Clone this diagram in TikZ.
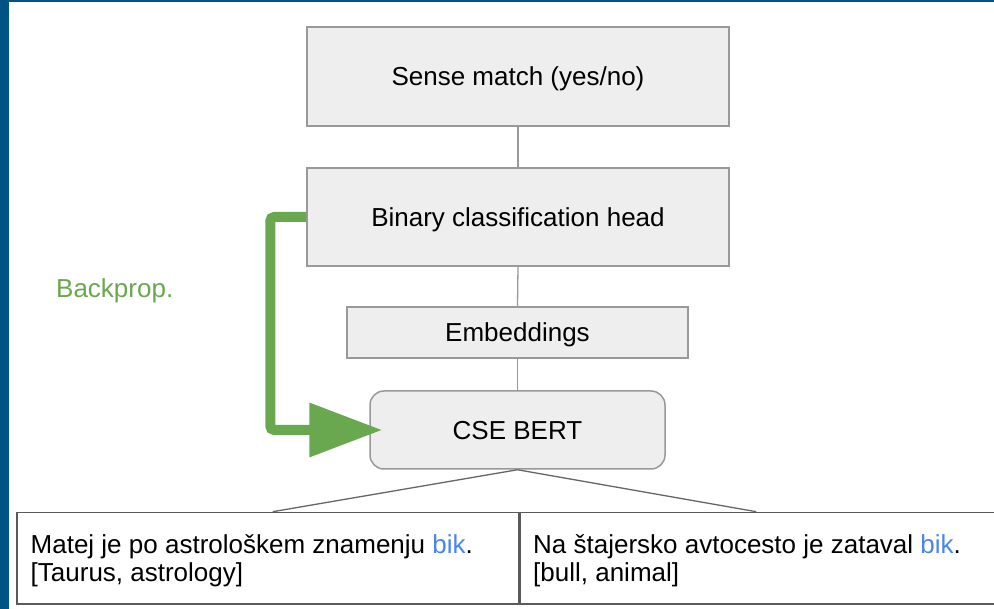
\documentclass[tikz,border=0pt]{standalone}
\usepackage{fontspec}
\setmainfont{Liberation Sans}
\usetikzlibrary{arrows.meta,calc}
\definecolor{frameblue}{HTML}{005383}
\definecolor{boxfill}{HTML}{EEEEEE}
\definecolor{boxline}{HTML}{999999}
\definecolor{bpgreen}{HTML}{6AA84F}
\definecolor{bikblue}{HTML}{4A86E8}
\definecolor{tableline}{HTML}{5A5A5A}
\definecolor{fanline}{HTML}{666666}
\begin{document}
\begin{tikzpicture}[x=1pt,y=-1pt,
  every node/.style={font=\fontsize{26}{28}\selectfont},
  layerbox/.style={draw=boxline, fill=boxfill, line width=1.5pt, inner sep=0pt, text depth=0pt},
  link/.style={draw=boxline, line width=1.3pt},
  fan/.style={draw=fanline, line width=1.3pt},
  cell/.style={draw=tableline, line width=1.5pt, inner sep=0pt},
  celltext/.style={anchor=west, align=left, inner sep=0pt},
  backprop/.style={draw=bpgreen, line width=10pt, rounded corners=4pt,
    -{Triangle[length=73pt,width=52pt]}},
]
\useasboundingbox (0,0) rectangle (994,609);
\fill[white] (0,0) rectangle (994,609);
\fill[frameblue] (0,0) rectangle (9,609);
\fill[frameblue] (0,0) rectangle (994,2.3);

% layer boxes
\node[layerbox, minimum width=422, minimum height=99] (sense) at (518,76.5) {Sense match (yes/no)};
\node[layerbox, minimum width=422, minimum height=98] (head) at (518,217) {Binary classification head};
\node[layerbox, minimum width=341, minimum height=51] (emb) at (517.5,332.5) {Embeddings};
\node[layerbox, rounded corners=14pt, minimum width=295, minimum height=78] (bert) at (517.5,430) {CSE BERT};

% table cells
\node[cell, minimum width=502, minimum height=91.3, anchor=north west] (cellL) at (16,511.7) {};
\node[cell, minimum width=484, minimum height=91.3, anchor=north west] (cellR) at (cellL.north east) {};
\node[celltext] (txtL) at ($(cellL.west)+(14.5,2.5)$) {Matej je po astrološkem znamenju \textcolor{bikblue}{bik}.\\{[Taurus, astrology]}};
\node[celltext] (txtR) at ($(cellR.west)+(13.5,2.5)$) {Na štajersko avtocesto je zataval \textcolor{bikblue}{bik}.\\{[bull, animal]}};

% connectors
\draw[link] (sense.south) -- (head.north);
\draw[link] (head.south) -- (emb.north);
\draw[link] (emb.south) -- (bert.north);
\draw[fan] (bert.south) -- ($(cellL.north)+(5,0)$);
\draw[fan] (bert.south) -- ($(cellR.north)+(-6,0)$);

% backprop arrow
\coordinate (tip) at ($(bert.west)+(13,0)$);
\draw[backprop] (head.west) -- ++(-36,0) |- (tip);
\node[anchor=west, text=bpgreen, inner sep=0pt] (bp) at (56,291) {Backprop.};
\end{tikzpicture}
\end{document}
